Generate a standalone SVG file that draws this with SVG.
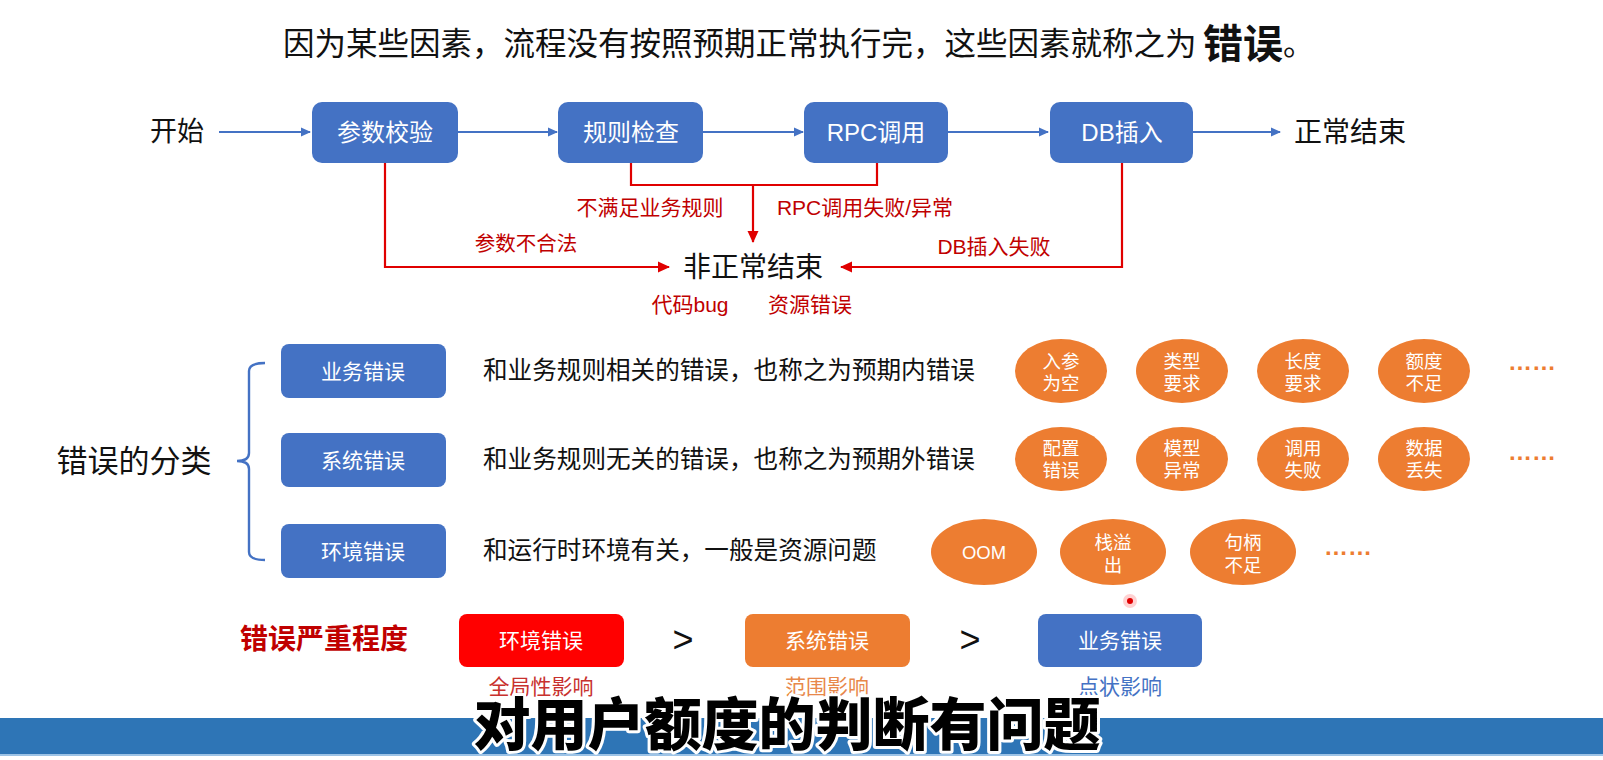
<svg xmlns="http://www.w3.org/2000/svg" width="1603" height="760" viewBox="0 0 1603 760">
<style>
text{font-family:"Liberation Sans","Noto Sans CJK SC",sans-serif;dominant-baseline:central}
.c{text-anchor:middle}
.w{fill:#fff}
.k{fill:#111}
.r{fill:#C00000}
.blue{fill:#4472C4}
.org{fill:#ED7D31}
.bl{stroke:#4472C4;stroke-width:2.2;fill:none}
.rl{stroke:#E00000;stroke-width:2.2;fill:none}
.dots{font-weight:bold;font-size:24px;fill:#ED7D31;dominant-baseline:alphabetic}
.desc{font-size:24.6px;fill:#111}
.et{font-size:18.5px;fill:#fff;text-anchor:middle}
</style>
<defs>
<marker id="ab" markerWidth="10" markerHeight="10" refX="9" refY="5" orient="auto" markerUnits="userSpaceOnUse"><path d="M0,0.5 L10,5 L0,9.5 Z" fill="#4472C4"/></marker>
<marker id="ar" markerWidth="12" markerHeight="12" refX="11" refY="6" orient="auto" markerUnits="userSpaceOnUse"><path d="M0,0.5 L12,6 L0,11.5 Z" fill="#E00000"/></marker>
</defs>
<rect width="1603" height="760" fill="#fff"/>
<text id="title" x="283" y="44" class="k" style="font-size:31.5px"><tspan x="283">因为某些因素，流程没有按照预期正常执行完，这些因素就称之为</tspan><tspan x="1203" style="font-size:40px;font-weight:bold">错误</tspan><tspan x="1283">。</tspan></text>
<g id="connectors">
<path class="bl" d="M219,132 H310" marker-end="url(#ab)"/>
<path class="bl" d="M458,132 H557" marker-end="url(#ab)"/>
<path class="bl" d="M703,132 H803" marker-end="url(#ab)"/>
<path class="bl" d="M948,132 H1048" marker-end="url(#ab)"/>
<path class="bl" d="M1193,132 H1280" marker-end="url(#ab)"/>
<path class="rl" d="M385,163 V267 H669" marker-end="url(#ar)"/>
<path class="rl" d="M631,163 V185 H877 V163"/>
<path class="rl" d="M753,185 V242" marker-end="url(#ar)"/>
<path class="rl" d="M1122,163 V267 H841" marker-end="url(#ar)"/>
<path d="M265,363 Q249,363 249,371 V453 Q249,461 237,461 Q249,461 249,469 V552 Q249,560 265,560" fill="none" stroke="#4472C4" stroke-width="2.4"/>
</g>
<g id="start"><text x="177" y="132" class="c k" style="font-size:27px">开始</text></g>
<g id="n1"><rect x="312" y="102" width="146" height="61" rx="10" fill="#4472C4"/><text x="385" y="132" class="c w" style="font-size:24px">参数校验</text></g>
<g id="n2"><rect x="558" y="102" width="145" height="61" rx="10" fill="#4472C4"/><text x="631" y="132" class="c w" style="font-size:24px">规则检查</text></g>
<g id="n3"><rect x="804" y="102" width="144" height="61" rx="10" fill="#4472C4"/><text x="876" y="132" class="c w" style="font-size:24px">RPC调用</text></g>
<g id="n4"><rect x="1050" y="102" width="143" height="61" rx="10" fill="#4472C4"/><text x="1122" y="132" class="c w" style="font-size:24px">DB插入</text></g>
<g id="end"><text x="1350" y="132" class="c k" style="font-size:28px">正常结束</text></g>
<g id="abnormal"><text x="753" y="267" class="c k" style="font-size:28px">非正常结束</text></g>
<g id="labels">
<text x="526" y="243" class="c r" style="font-size:20.5px">参数不合法</text>
<text x="650" y="207" class="c r" style="font-size:21px">不满足业务规则</text>
<text x="865" y="207" class="c r" style="font-size:21px">RPC调用失败/异常</text>
<text x="994" y="246" class="c r" style="font-size:21px">DB插入失败</text>
<text x="690" y="304" class="c r" style="font-size:21px">代码bug</text>
<text x="810" y="304" class="c r" style="font-size:21px">资源错误</text>
</g>
<g id="classify"><text x="134" y="461" class="c k" style="font-size:31px">错误的分类</text></g>
<g id="biz"><rect x="281" y="344" width="165" height="54" rx="8" fill="#4472C4"/><text x="363" y="371" class="c w" style="font-size:21px">业务错误</text>
<text x="483" y="370" class="desc">和业务规则相关的错误，也称之为预期内错误</text></g>
<g id="sys"><rect x="281" y="433" width="165" height="54" rx="8" fill="#4472C4"/><text x="363" y="460" class="c w" style="font-size:21px">系统错误</text>
<text x="483" y="459" class="desc">和业务规则无关的错误，也称之为预期外错误</text></g>
<g id="env"><rect x="281" y="524" width="165" height="54" rx="8" fill="#4472C4"/><text x="363" y="551" class="c w" style="font-size:21px">环境错误</text>
<text x="483" y="550" class="desc">和运行时环境有关，一般是资源问题</text></g>
<g id="e11"><ellipse cx="1061" cy="371" rx="46" ry="32" fill="#ED7D31"/><text class="et"><tspan x="1061" y="361">入参</tspan><tspan x="1061" y="383">为空</tspan></text></g>
<g id="e12"><ellipse cx="1182" cy="371" rx="46" ry="32" fill="#ED7D31"/><text class="et"><tspan x="1182" y="361">类型</tspan><tspan x="1182" y="383">要求</tspan></text></g>
<g id="e13"><ellipse cx="1303" cy="371" rx="46" ry="32" fill="#ED7D31"/><text class="et"><tspan x="1303" y="361">长度</tspan><tspan x="1303" y="383">要求</tspan></text></g>
<g id="e14"><ellipse cx="1424" cy="371" rx="46" ry="32" fill="#ED7D31"/><text class="et"><tspan x="1424" y="361">额度</tspan><tspan x="1424" y="383">不足</tspan></text></g>
<g id="d1"><text x="1508" y="370" class="dots">……</text></g>
<g id="e21"><ellipse cx="1061" cy="459" rx="46" ry="32" fill="#ED7D31"/><text class="et"><tspan x="1061" y="448">配置</tspan><tspan x="1061" y="470">错误</tspan></text></g>
<g id="e22"><ellipse cx="1182" cy="459" rx="46" ry="32" fill="#ED7D31"/><text class="et"><tspan x="1182" y="448">模型</tspan><tspan x="1182" y="470">异常</tspan></text></g>
<g id="e23"><ellipse cx="1303" cy="459" rx="46" ry="32" fill="#ED7D31"/><text class="et"><tspan x="1303" y="448">调用</tspan><tspan x="1303" y="470">失败</tspan></text></g>
<g id="e24"><ellipse cx="1424" cy="459" rx="46" ry="32" fill="#ED7D31"/><text class="et"><tspan x="1424" y="448">数据</tspan><tspan x="1424" y="470">丢失</tspan></text></g>
<g id="d2"><text x="1508" y="460" class="dots">……</text></g>
<g id="e31"><ellipse cx="984" cy="552" rx="53" ry="33" fill="#ED7D31"/><text x="984" y="552" class="et">OOM</text></g>
<g id="e32"><ellipse cx="1113" cy="552" rx="53" ry="33" fill="#ED7D31"/><text class="et"><tspan x="1113" y="542">栈溢</tspan><tspan x="1113" y="565">出</tspan></text></g>
<g id="e33"><ellipse cx="1243" cy="552" rx="53" ry="33" fill="#ED7D31"/><text class="et"><tspan x="1243" y="542">句柄</tspan><tspan x="1243" y="565">不足</tspan></text></g>
<g id="d3"><text x="1324" y="555" class="dots">……</text></g>
<g id="severity"><text x="324" y="639" class="c r" style="font-size:28px;font-weight:bold">错误严重程度</text></g>
<g id="s1"><rect x="459" y="614" width="165" height="53" rx="8" fill="#FF0000"/><text x="541" y="640" class="c w" style="font-size:21px">环境错误</text></g>
<g id="gt1"><text x="683" y="639" class="c k" style="font-size:36px">&gt;</text></g>
<g id="s2"><rect x="745" y="614" width="165" height="53" rx="8" fill="#ED7D31"/><text x="827" y="640" class="c w" style="font-size:21px">系统错误</text></g>
<g id="gt2"><text x="970" y="639" class="c k" style="font-size:36px">&gt;</text></g>
<g id="s3"><rect x="1038" y="614" width="164" height="53" rx="8" fill="#4472C4"/><text x="1120" y="640" class="c w" style="font-size:21px">业务错误</text></g>
<circle cx="1130" cy="601" r="7" fill="#FF0000" fill-opacity="0.18"/>
<circle cx="1130" cy="601" r="3" fill="#E00000"/>
<rect x="0" y="718" width="1603" height="37" fill="#2E75B6"/>
<rect x="0" y="754" width="1603" height="2" fill="#9DC3E6"/>
<g id="impact">
<text x="541" y="686" class="c" style="font-size:21px;fill:#C8312E">全局性影响</text>
<text x="827" y="686" class="c" style="font-size:21px;fill:#E8884A">范围影响</text>
<text x="1120" y="686" class="c blue" style="font-size:21px">点状影响</text>
</g>
<g id="caption"><text x="787" y="725" class="c" style="font-size:57px;font-weight:900;fill:#000;stroke:#fff;stroke-width:6;paint-order:stroke;stroke-linejoin:round">对用户额度的判断有问题</text></g>
</svg>
